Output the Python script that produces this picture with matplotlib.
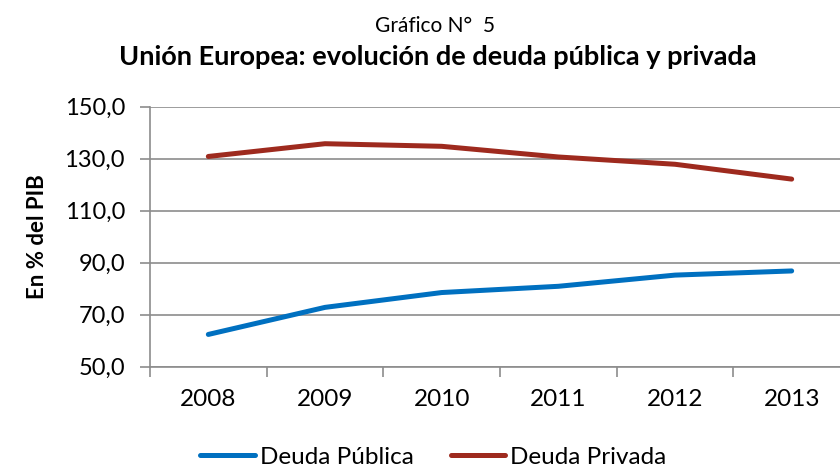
import matplotlib
matplotlib.use("Agg")
import matplotlib.pyplot as plt
from matplotlib.ticker import FixedLocator, FuncFormatter

years = ["2008", "2009", "2010", "2011", "2012", "2013"]
deuda_publica = [62.4, 72.8, 78.5, 80.9, 85.2, 86.8]
deuda_privada = [130.8, 135.7, 134.7, 130.6, 127.8, 122.1]
yticks = [50, 70, 90, 110, 130, 150]

plt.rcParams['font.family'] = ['Lato', 'DejaVu Sans']

fig = plt.figure(figsize=(8.4, 4.68), dpi=100)
W, H = 840, 468
left, right, top, bottom = 150, 850, 106.5, 366.7
ax = fig.add_axes([left / W, 1 - bottom / H, (right - left) / W, (bottom - top) / H])

x = list(range(len(years)))
ax.plot(x, deuda_publica, color="#0070C0", lw=3.6, solid_capstyle="round", label="Deuda Pública")
ax.plot(x, deuda_privada, color="#9E2A1E", lw=3.6, solid_capstyle="round", label="Deuda Privada")

ax.set_xlim(-0.5, len(years) - 0.5)
ax.set_ylim(50, 150)
ax.set_yticks(yticks)
ax.yaxis.set_major_formatter(FuncFormatter(lambda v, p: f"{v:.1f}".replace(".", ",")))
ax.set_xticks(x)
ax.set_xticklabels(years)
ax.xaxis.set_minor_locator(FixedLocator([i - 0.5 for i in range(len(years) + 1)]))
ax.tick_params(axis="x", which="major", length=0, pad=16, labelsize=17.5)
ax.tick_params(axis="x", which="minor", length=7, color="#8c8c8c", width=1.2)
ax.tick_params(axis="y", length=7, color="#8c8c8c", width=1.2, labelsize=17, pad=11)

ax.grid(axis="y", color="#8c8c8c", lw=1.2)
ax.set_axisbelow(True)
for s in ["top", "right"]:
    ax.spines[s].set_visible(False)
for s in ["left", "bottom"]:
    ax.spines[s].set_color("#8c8c8c")
    ax.spines[s].set_linewidth(1.2)

fig.text(37 / W, 1 - 237 / H, "En % del PIB", rotation=90, ha="center", va="center",
         fontsize=16, fontweight="bold")
fig.text(435 / W, 1 - 32.3 / H, "Gráfico N°  5", ha="center", va="baseline", fontsize=15)
fig.text(438 / W, 1 - 65 / H, "Unión Europea: evolución de deuda pública y privada",
         ha="center", va="baseline", fontsize=19.5, fontweight="bold")

fig.legend(loc="center", bbox_to_anchor=(433.5 / W, 1 - 457 / H), ncol=2, frameon=False,
           fontsize=17.5, handlelength=2.26, handletextpad=0.2, columnspacing=1.5,
           borderpad=0, borderaxespad=0)

fig.savefig("out.png", dpi=100)
